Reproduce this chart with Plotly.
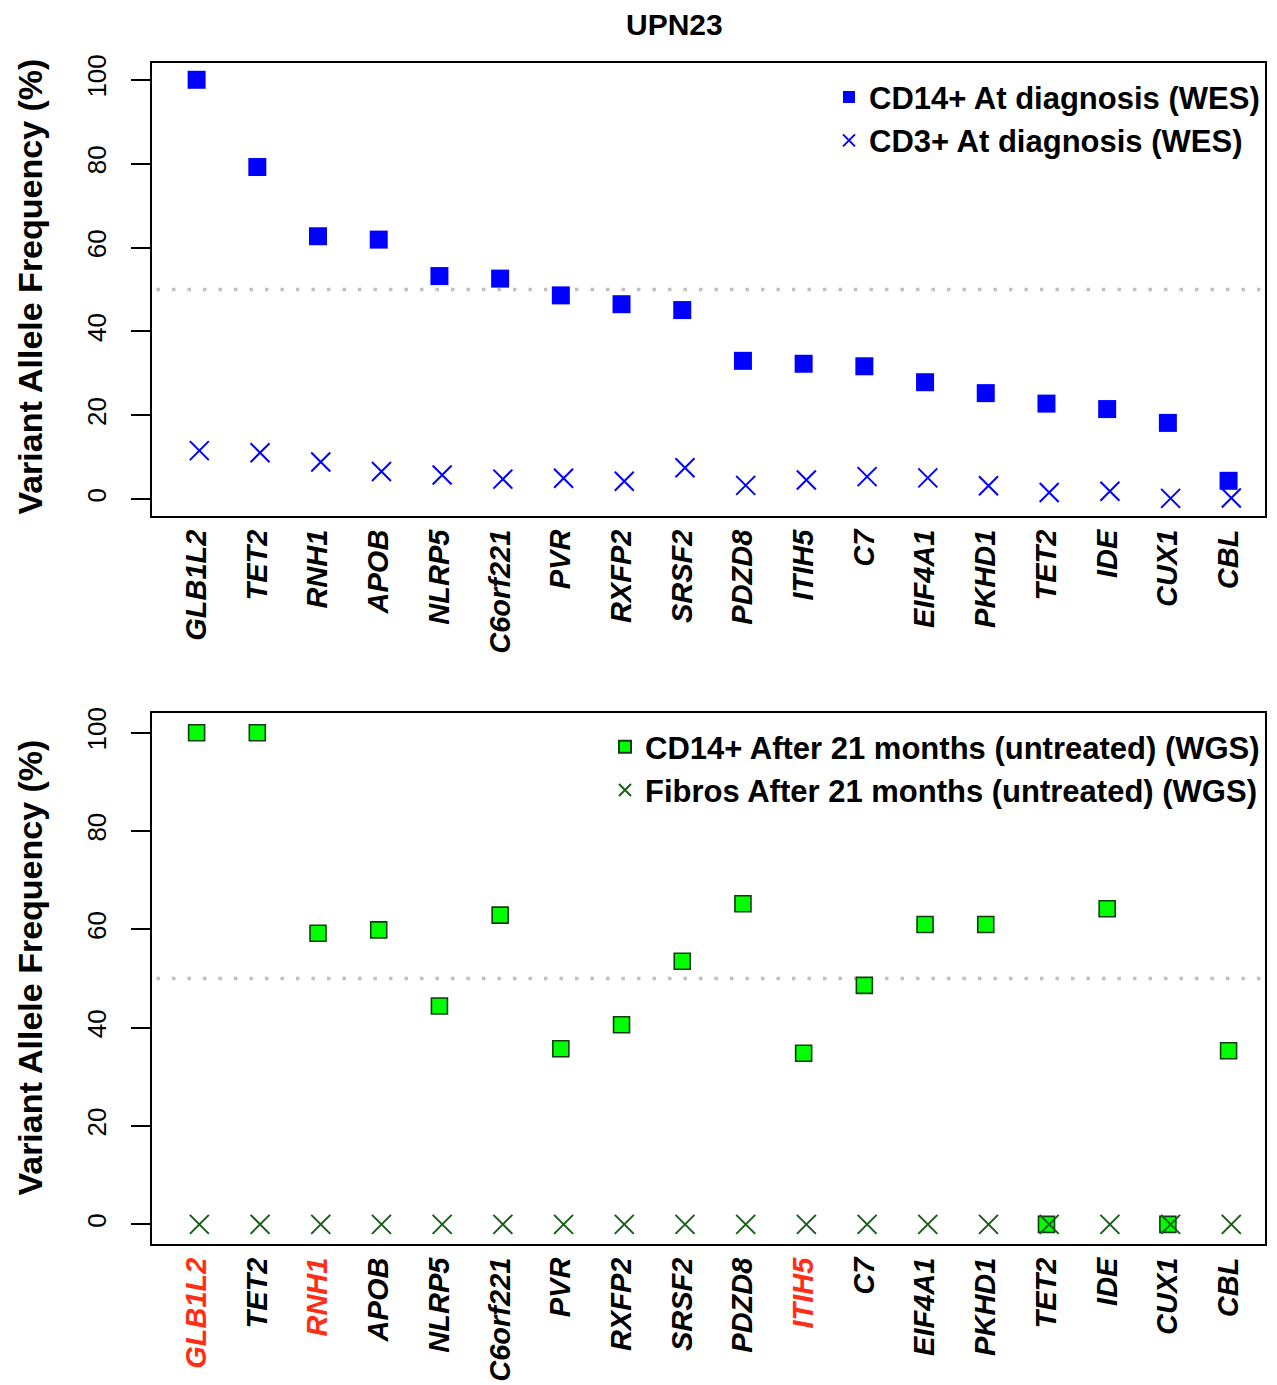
import plotly.graph_objects as go
from plotly.subplots import make_subplots

# Genes in plotting order (TET2 appears twice: two distinct variants)
genes = ["GLB1L2", "TET2", "RNH1", "APOB", "NLRP5", "C6orf221", "PVR", "RXFP2",
         "SRSF2", "PDZD8", "ITIH5", "C7", "EIF4A1", "PKHD1", "TET2", "IDE",
         "CUX1", "CBL"]
# Genes highlighted in red on the lower panel axis
highlighted = [True, False, True, False, False, False, False, False,
               False, False, True, False, False, False, False, False,
               False, False]

# Variant allele frequencies (%)
cd14_diagnosis = [100, 79.2, 62.7, 61.9, 53.2, 52.6, 48.6, 46.5, 45.1,
                  33.0, 32.3, 31.7, 27.9, 25.3, 22.8, 21.5, 18.2, 4.4]
cd3_diagnosis = [11.6, 11.1, 8.9, 6.6, 5.8, 4.8, 5.0, 4.3, 7.5,
                 3.3, 4.6, 5.4, 5.1, 3.2, 1.6, 1.9, 0.2, 0.3]
cd14_21m = [100, 100, 59.2, 59.9, 44.4, 62.9, 35.7, 40.6, 53.5,
            65.2, 34.8, 48.6, 61.0, 61.0, 0, 64.2, 0, 35.3]
fibros_21m = [0, 0, 0, 0, 0, 0, 0, 0, 0,
              0, 0, 0, 0, 0, 0, 0, 0, 0]

y_ticks = [0, 20, 40, 60, 80, 100]

FONT = "Liberation Sans, Arial, Helvetica, sans-serif"
BLUE = "#0000ff"
GREEN = "#00ff00"
DARKGREEN = "#1a5c1a"
RED = "#ff2d16"
Y_TITLE = "Variant Allele Frequency (%)"

pos = list(range(1, len(genes) + 1))
pos_x = [p + 0.045 for p in pos]  # crosses sit slightly right of the squares

fig = make_subplots(rows=2, cols=1, vertical_spacing=0.1)

fig.add_trace(go.Scatter(
    x=pos, y=cd14_diagnosis, mode="markers", name="CD14+ At diagnosis (WES)",
    marker=dict(symbol="square", size=18, color=BLUE, line=dict(width=0)),
    legend="legend"), row=1, col=1)
fig.add_trace(go.Scatter(
    x=pos_x, y=cd3_diagnosis, mode="markers", name="CD3+ At diagnosis (WES)",
    marker=dict(symbol="x-thin-open", size=19, color=BLUE,
                line=dict(width=2, color=BLUE)),
    legend="legend"), row=1, col=1)

fig.add_trace(go.Scatter(
    x=pos, y=cd14_21m, mode="markers",
    name="CD14+ After 21 months (untreated) (WGS)",
    marker=dict(symbol="square", size=16, color=GREEN,
                line=dict(width=1.6, color="#123d12")),
    legend="legend2"), row=2, col=1)
fig.add_trace(go.Scatter(
    x=pos_x, y=fibros_21m, mode="markers",
    name="Fibros After 21 months (untreated) (WGS)",
    marker=dict(symbol="x-thin-open", size=19, color=DARKGREEN,
                line=dict(width=2, color=DARKGREEN)),
    legend="legend2"), row=2, col=1)

top_text = genes
bottom_text = [f'<span style="color:{RED}">{g}</span>' if h else g
               for g, h in zip(genes, highlighted)]

x_common = dict(range=[0.265, 18.6], tickmode="array", tickvals=pos,
                tickangle=-90, ticks="", showline=True, mirror=True,
                linecolor="black", linewidth=2, showgrid=False, zeroline=False,
                tickfont=dict(family=FONT, size=29, color="black",
                              weight="bold", style="italic"),
                ticklabelstandoff=0)
y_common = dict(range=[-4, 104], tickmode="array", tickvals=y_ticks,
                ticktext=[str(v) for v in y_ticks], tickangle=-90,
                ticks="outside", ticklen=19, tickwidth=2, tickcolor="black",
                showline=True, mirror=True, linecolor="black", linewidth=2,
                showgrid=False, zeroline=False,
                tickfont=dict(family=FONT, size=26, color="black"),
                ticklabelstandoff=15)

fig.update_xaxes(ticktext=top_text, row=1, col=1, **x_common)
fig.update_xaxes(ticktext=bottom_text, row=2, col=1, **x_common)
fig.update_yaxes(row=1, col=1, **y_common)
fig.update_yaxes(row=2, col=1, **y_common)

title_font = dict(family=FONT, size=34, color="black", weight="bold")
annotations = [
    dict(text="UPN23", x=0.4695, y=1.033, xref="paper", yref="paper",
         xanchor="center", yanchor="middle", showarrow=False,
         font=dict(family=FONT, size=30, color="black", weight="bold")),
    dict(text=Y_TITLE, x=-0.110, y=0.8103, xref="paper", yref="paper",
         xanchor="center", yanchor="middle", textangle=-90, showarrow=False,
         font=title_font),
    dict(text=Y_TITLE, x=-0.110, y=0.2337, xref="paper", yref="paper",
         xanchor="center", yanchor="middle", textangle=-90, showarrow=False,
         font=title_font),
]

fig.update_layout(
    width=1277, height=1385,
    margin=dict(l=151.5, r=12, t=63, b=141, autoexpand=False),
    paper_bgcolor="white", plot_bgcolor="white",
    font=dict(family=FONT, color="black"),
    showlegend=True,
    xaxis=dict(domain=[0, 1]), xaxis2=dict(domain=[0, 1]),
    yaxis=dict(domain=[0.6164, 1.0]), yaxis2=dict(domain=[0.0, 0.4496]),
    legend=dict(x=1, xanchor="right", y=0.9937, yanchor="top",
                bgcolor="rgba(0,0,0,0)", borderwidth=0, itemsizing="constant",
                font=dict(family=FONT, size=31, color="black", weight="bold")),
    legend2=dict(x=1, xanchor="right", y=0.4437, yanchor="top",
                 bgcolor="rgba(0,0,0,0)", borderwidth=0, itemsizing="constant",
                 font=dict(family=FONT, size=31, color="black", weight="bold")),
    annotations=annotations,
)

# 50% reference lines
for ax_x, ax_y in (("x", "y"), ("x2", "y2")):
    fig.add_shape(type="line", xref=f"{ax_x} domain", yref=ax_y,
                  x0=0.004, x1=1, y0=50, y1=50, layer="below",
                  line=dict(color="#c0c0c0", width=3.5, dash="3.5px,12px"))

fig.write_html("out.html")
